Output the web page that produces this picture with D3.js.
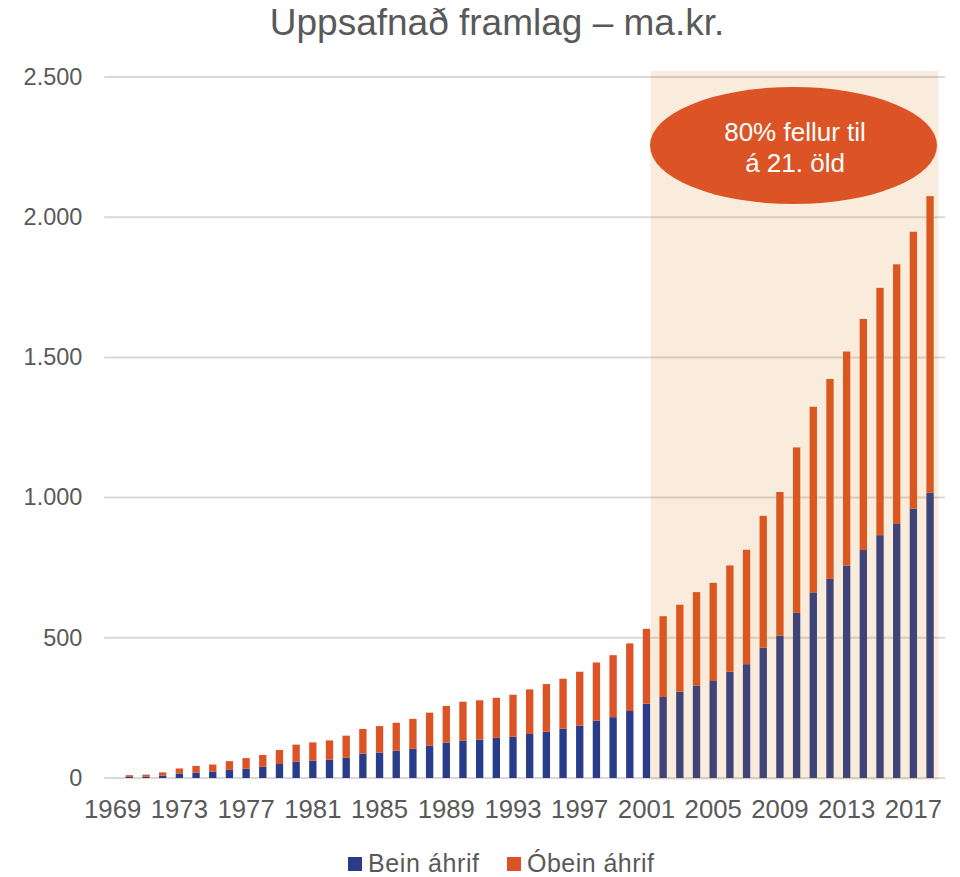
<!DOCTYPE html>
<html lang="is">
<head>
  <meta charset="UTF-8">
  <title>Uppsafnað framlag – ma.kr.</title>
  <script src="https://d3js.org/d3.v7.min.js"></script>
  <style>
    body {
      margin: 0;
      background: #fff;
      font-family: "Liberation Sans", Arial, sans-serif;
    }
    .tick text {
      fill: #595959;
    }
  </style>
</head>
<body>
  <div id="chart"></div>

  <script>
    // Years on the category axis
    const years = d3.range(1969, 2019).map(String);

    // Bein áhrif (direct) and total stacked height
    const bein = [0, 4, 5, 9, 16, 19, 23, 29, 33, 40,
      50, 58, 62, 65, 72, 87, 91, 97, 104, 115,
      126, 133, 137, 143, 147, 157, 165, 176, 187, 205,
      217, 239, 265, 289, 308, 330, 346, 379, 406, 465,
      508, 589, 662, 710, 758, 813, 866, 906, 961, 1018];
    const total = [0, 10, 12, 20, 34, 43, 48, 60, 71, 82,
      100, 119, 127, 134, 151, 175, 185, 197, 211, 233,
      257, 272, 277, 286, 297, 316, 335, 354, 379, 412,
      438, 480, 532, 577, 618, 663, 696, 758, 814, 935,
      1020, 1179, 1324, 1423, 1521, 1637, 1748, 1832, 1948, 2075];
    // Óbein áhrif (indirect) is the rest of the bar
    const obein = total.map((t, i) => t - bein[i]);

    const yTicks = [0, 500, 1000, 1500, 2000, 2500];
    const xTickYears = years.filter((d, i) => i % 4 === 0);
    const seriesNames = ['Bein áhrif', 'Óbein áhrif'];
    const colors = ['#283c8a', '#dc5425'];

    const width = 960, height = 877;
    const plot = { left: 104.3, right: 938.4, top: 77, bottom: 778 };

    const svg = d3.select("#chart").append("svg")
      .attr("width", width)
      .attr("height", height);

    const x = d3.scaleBand()
      .domain(years)
      .range([plot.left, plot.right])
      .paddingInner(0.56)
      .paddingOuter(0.28);

    const y = d3.scaleLinear()
      .domain([0, 2500])
      .range([plot.bottom, plot.top]);

    const isl = d3.formatLocale({ decimal: ",", thousands: ".", grouping: [3], currency: ["", " kr."] });

    // Title
    svg.append("text")
      .attr("x", 497)
      .attr("y", 35)
      .attr("text-anchor", "middle")
      .style("font-size", "37px")
      .style("fill", "#595959")
      .text("Uppsafnað framlag – ma.kr.");

    // Gridlines
    svg.append("g")
      .selectAll("line")
      .data(yTicks)
      .enter().append("line")
      .attr("x1", plot.left)
      .attr("x2", 945)
      .attr("y1", d => y(d))
      .attr("y2", d => y(d))
      .attr("stroke", "#d9d9d9")
      .attr("stroke-width", 2);

    // Y axis labels
    const yAxis = svg.append("g")
      .attr("transform", `translate(${plot.left - 22},0)`)
      .call(d3.axisLeft(y).tickValues(yTicks).tickSize(0).tickPadding(0).tickFormat(isl.format(",d")));
    yAxis.select(".domain").remove();
    yAxis.selectAll("text")
      .style("font-size", "23px")
      .style("font-family", "'Liberation Sans', Arial, sans-serif")
      .attr("transform", "scale(1.02,1)");

    // X axis labels
    const xAxis = svg.append("g")
      .attr("transform", `translate(0,${plot.bottom})`)
      .call(d3.axisBottom(x).tickValues(xTickYears).tickSize(0).tickPadding(22));
    xAxis.select(".domain").remove();
    xAxis.selectAll("text")
      .style("font-size", "25px")
      .style("font-family", "'Liberation Sans', Arial, sans-serif")
      .attr("transform", "scale(1.03,1)");

    // Stacked bars
    const rows = years.map((yr, i) => ({ year: yr, bein: bein[i], obein: obein[i] }));
    const stacked = d3.stack().keys(['bein', 'obein'])(rows);

    svg.append("g")
      .selectAll("g")
      .data(stacked)
      .enter().append("g")
      .attr("fill", (d, i) => colors[i])
      .selectAll("rect")
      .data(d => d)
      .enter().append("rect")
      .attr("x", d => x(d.data.year))
      .attr("y", d => y(d[1]))
      .attr("width", x.bandwidth())
      .attr("height", d => y(d[0]) - y(d[1]));

    // Highlight of the 21st century, laid over the bars
    const shadeLeft = x("2001") + x.bandwidth() + 0.3;
    svg.append("rect")
      .attr("x", shadeLeft)
      .attr("y", 71)
      .attr("width", plot.right - shadeLeft)
      .attr("height", plot.bottom + 2 - 71)
      .attr("fill", "rgb(211,115,5)")
      .attr("fill-opacity", 0.136);

    // Callout
    svg.append("ellipse")
      .attr("cx", 793.5)
      .attr("cy", 145.5)
      .attr("rx", 143.5)
      .attr("ry", 58.5)
      .attr("fill", "#dc5425");

    const callout = svg.append("text")
      .attr("text-anchor", "middle")
      .style("font-size", "26px")
      .style("fill", "#fff");
    callout.append("tspan").attr("x", 795).attr("y", 141).text("80% fellur til");
    callout.append("tspan").attr("x", 795).attr("y", 172).text("á 21. öld");

    // Legend
    const legendX = [348, 507];
    const legend = svg.append("g")
      .selectAll("g")
      .data(seriesNames)
      .enter().append("g")
      .attr("transform", (d, i) => `translate(${legendX[i]},857)`);
    legend.append("rect")
      .attr("width", 14)
      .attr("height", 14)
      .attr("fill", (d, i) => colors[i]);
    legend.append("text")
      .attr("x", 20)
      .attr("y", 15)
      .style("font-size", "25px")
      .style("fill", "#595959")
      .attr("textLength", (d, i) => [111, 127][i])
      .text(d => d);
  </script>
</body>
</html>
